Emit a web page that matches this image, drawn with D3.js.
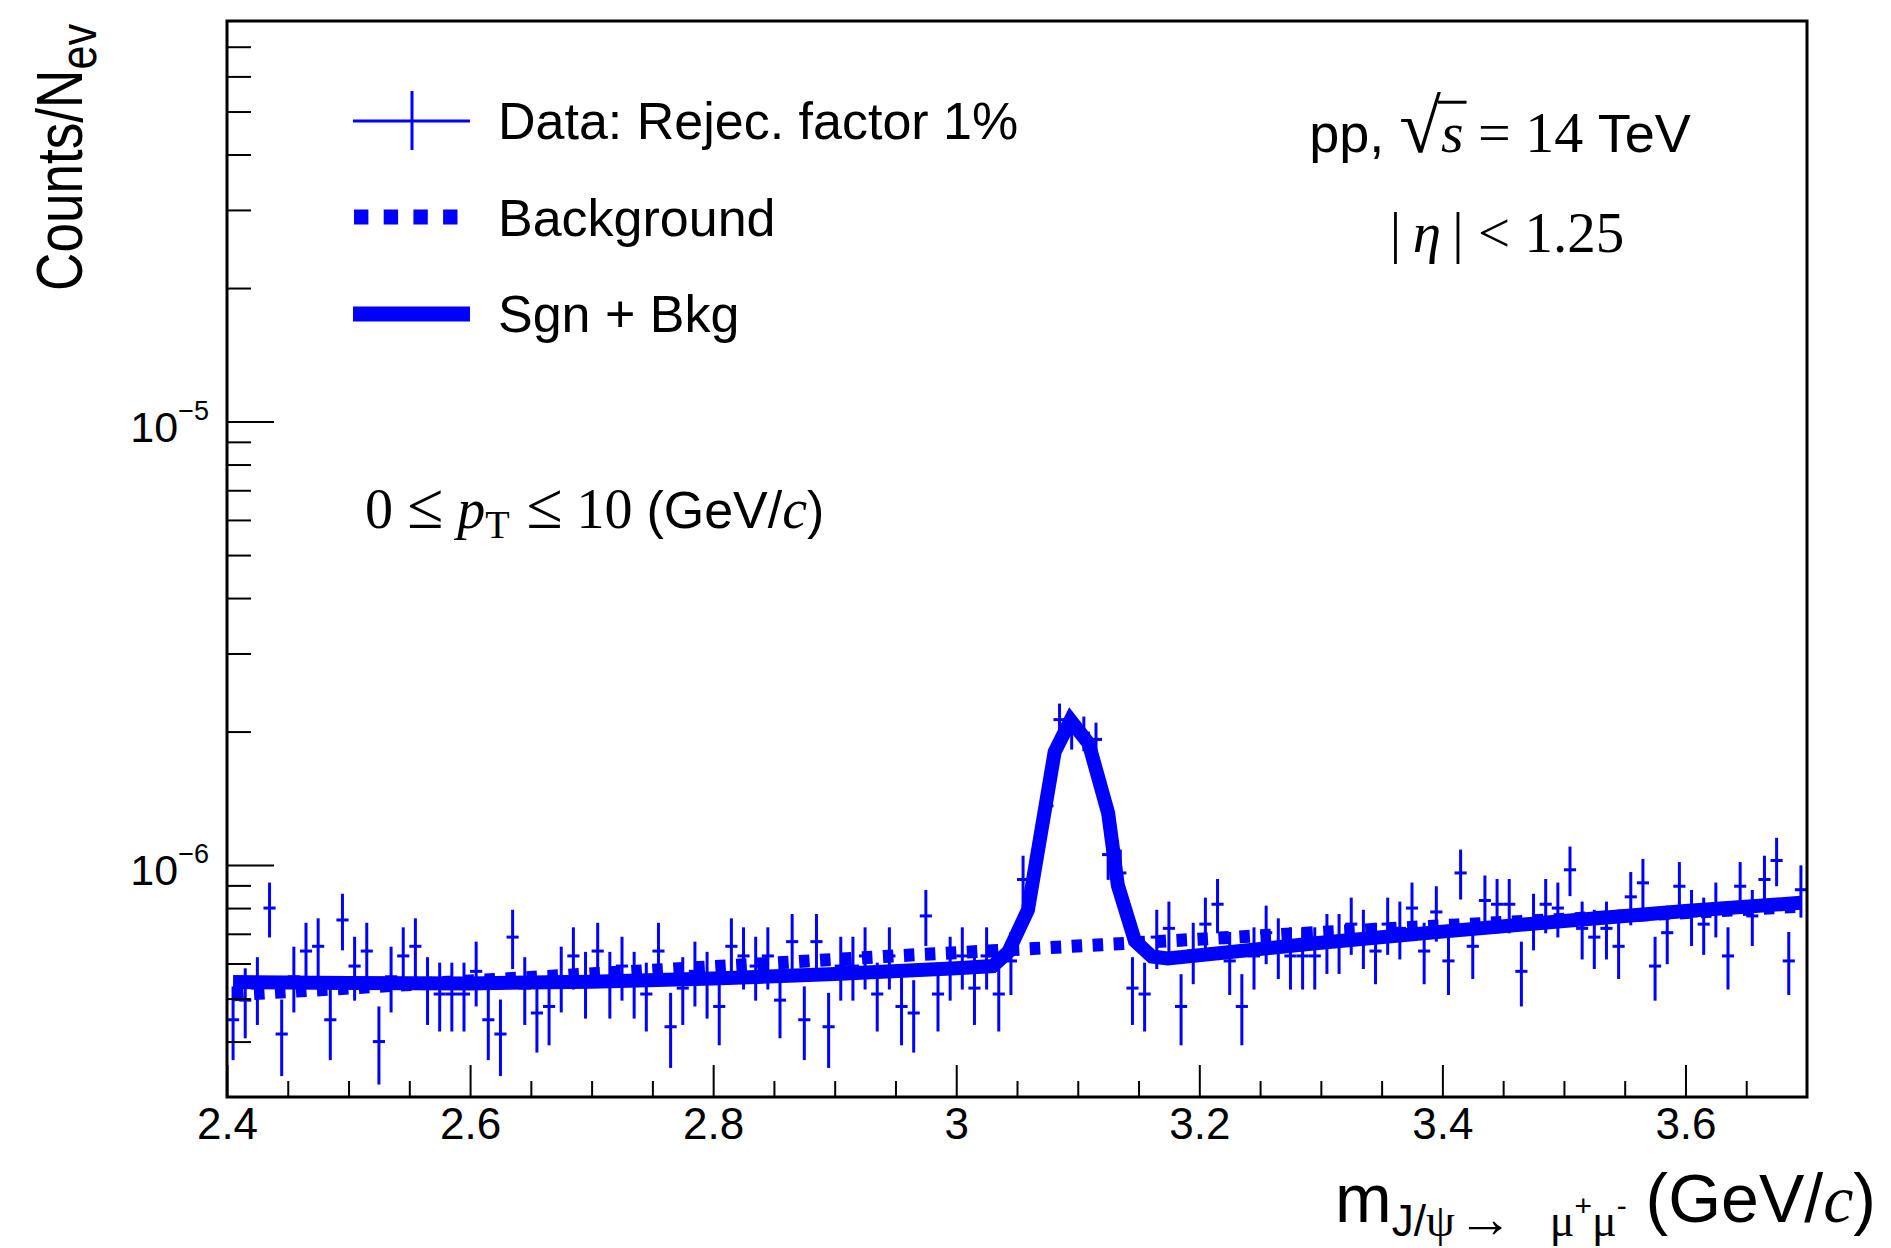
<!DOCTYPE html>
<html>
<head>
<meta charset="utf-8">
<script src="https://cdn.jsdelivr.net/npm/d3@7"></script>
<style>
body { margin: 0; background: #fff; }
text { font-family: "Liberation Sans", Arial, Helvetica, sans-serif; fill: #000; }
.serif { font-family: "Liberation Serif", "Times New Roman", serif; }
.it { font-style: italic; }
</style>
</head>
<body>
<div id="chart"></div>
<script>
// histogram: 130 bins of 0.01 from 2.4, entries per bin
var binLow = 2.4, binWidth = 0.01;
var counts = [28,31,33,50,26,35,40,41,28,47,37,40,25,35,39,41,33,32,32,32,
	36,28,26,43,33,29,30,35,39,34,40,34,37,34,32,40,27,33,36,34,
	30,41,39,37,39,31,42,28,42,27,37,37,39,32,39,30,29,48,32,37,
	39,33,39,32,38,58,63,85,133,125,124,120,66,60,33,32,43,45,30,40,
	46,51,38,30,39,44,41,39,39,39,42,42,46,43,40,46,45,50,40,49,
	38,60,41,52,51,51,36,47,51,50,61,45,43,45,41,53,57,37,44,56,
	48,46,50,39,56,48,58,64,38,55];
var countWeight = 1.6e-8;   // Counts/N_ev for one entry

// background fit (dotted)
var bkgX = [2.405, 2.6, 2.822, 2.94, 3.03, 3.13, 3.25, 3.4, 3.55, 3.695];
var bkgY = [5.10e-7, 5.48e-7, 5.95e-7, 6.22e-7, 6.41e-7, 6.64e-7, 6.93e-7, 7.30e-7, 7.68e-7, 8.08e-7];

// signal + background fit (solid)
var fitX = [2.405, 2.5, 2.6, 2.7, 2.8, 2.9, 3.0, 3.03, 3.043, 3.059, 3.081, 3.094, 3.109,
	3.125, 3.133, 3.147, 3.161, 3.174, 3.3, 3.4, 3.5, 3.6, 3.695];
var fitY = [5.45e-7, 5.42e-7, 5.41e-7, 5.46e-7, 5.55e-7, 5.68e-7, 5.85e-7, 5.92e-7, 6.38e-7,
	7.92e-7, 1.80e-6, 2.12e-6, 1.88e-6, 1.31e-6, 9.0e-7, 6.75e-7, 6.22e-7, 6.16e-7,
	6.68e-7, 7.08e-7, 7.48e-7, 7.88e-7, 8.22e-7];

var xMajor = [2.4, 2.6, 2.8, 3, 3.2, 3.4, 3.6];
var yDecades = [1e-6, 1e-5];

var W = 1891, H = 1248;
var frame = {left: 227, right: 1807, top: 21, bottom: 1097};
var blue = "#0000ff";

var svg = d3.select("#chart").append("svg")
	.attr("width", W)
	.attr("height", H);

var x = d3.scaleLinear().domain([2.4, 3.7]).range([frame.left, frame.right]);
var y = d3.scaleLog().domain([3e-7, 8e-5]).range([frame.bottom, frame.top]);

svg.append("clipPath").attr("id", "clip")
	.append("rect")
	.attr("x", frame.left).attr("y", frame.top)
	.attr("width", frame.right - frame.left)
	.attr("height", frame.bottom - frame.top);

var plot = svg.append("g").attr("clip-path", "url(#clip)");

// data points with sqrt(N) errors
var bins = counts.map(function(n, i){
	return {lo: binLow + i*binWidth, hi: binLow + (i+1)*binWidth,
		v: n*countWeight, e: Math.sqrt(n)*countWeight};
});

var pts = plot.append("g")
	.style("stroke", blue)
	.style("stroke-width", 3);

pts.selectAll(".ev").data(bins).enter().append("line")
	.attr("x1", function(d){ return x((d.lo + d.hi)/2); })
	.attr("x2", function(d){ return x((d.lo + d.hi)/2); })
	.attr("y1", function(d){ return y(d.v + d.e); })
	.attr("y2", function(d){ return y(d.v - d.e); });

pts.selectAll(".eh").data(bins).enter().append("line")
	.attr("x1", function(d){ return x(d.lo); })
	.attr("x2", function(d){ return x(d.hi); })
	.attr("y1", function(d){ return y(d.v); })
	.attr("y2", function(d){ return y(d.v); });

// fit curves
var bkgLine = d3.line()
	.x(function(d){ return x(d[0]); })
	.y(function(d){ return y(d[1]); })
	.curve(d3.curveMonotoneX);

var fitLine = d3.line()
	.x(function(d){ return x(d[0]); })
	.y(function(d){ return y(d[1]); });

plot.append("path")
	.attr("d", bkgLine(d3.zip(bkgX, bkgY)))
	.style("fill", "none")
	.style("stroke", blue)
	.style("stroke-width", 13)
	.style("stroke-dasharray", "10.5,10.5");

plot.append("path")
	.attr("d", fitLine(d3.zip(fitX, fitY)))
	.style("fill", "none")
	.style("stroke", blue)
	.style("stroke-width", 14)
	.style("stroke-linejoin", "miter");

// axes (ticks inside the frame)
var xMinor = d3.range(2.45, 3.7, 0.05).filter(function(t){
	return xMajor.every(function(m){ return Math.abs(m - t) > 1e-6; });
});

var xAxis = svg.append("g")
	.attr("transform", "translate(0," + frame.bottom + ")")
	.call(d3.axisBottom(x).tickValues(xMajor).tickSize(-32).tickPadding(11)
		.tickFormat(d3.format("")));
svg.append("g")
	.attr("transform", "translate(0," + frame.bottom + ")")
	.call(d3.axisBottom(x).tickValues(xMinor).tickSize(-16).tickFormat(""));

var yMinor = [];
[1e-7, 1e-6, 1e-5].forEach(function(dec){
	for (var k = 2; k <= 9; k++) {
		var v = k*dec;
		if (v > 3e-7 && v < 8e-5) yMinor.push(v);
	}
});

svg.append("g")
	.attr("transform", "translate(" + frame.left + ",0)")
	.call(d3.axisLeft(y).tickValues(yDecades).tickSize(-47).tickFormat(""));
svg.append("g")
	.attr("transform", "translate(" + frame.left + ",0)")
	.call(d3.axisLeft(y).tickValues(yMinor).tickSize(-24).tickFormat(""));

svg.selectAll(".domain").remove();
svg.selectAll(".tick line").style("stroke", "#000").style("stroke-width", 2);
xAxis.selectAll(".tick text")
	.style("font-size", "44px")
	.style("font-family", "'Liberation Sans', Arial, sans-serif")
	.style("fill", "#000");

yDecades.forEach(function(d){
	var t = svg.append("text")
		.attr("x", 209)
		.attr("y", y(d) + 20)
		.attr("text-anchor", "end")
		.style("font-size", "43px");
	t.append("tspan").text("10");
	t.append("tspan").attr("dy", -22).style("font-size", "27px")
		.text("\u2212" + Math.round(-Math.log10(d)));
});

svg.append("rect")
	.attr("x", frame.left).attr("y", frame.top)
	.attr("width", frame.right - frame.left)
	.attr("height", frame.bottom - frame.top)
	.style("fill", "none")
	.style("stroke", "#000")
	.style("stroke-width", 3);

// axis titles
var yt = svg.append("text")
	.attr("transform", "translate(82,24) rotate(-90) scale(0.83,1)")
	.attr("text-anchor", "end")
	.style("font-size", "64px");
yt.append("tspan").text("Counts/N");
yt.append("tspan").attr("dy", 14).style("font-size", "52px").text("ev");

var arrowW = 55;
var xt = svg.append("text")
	.attr("x", 1876).attr("y", 1222)
	.attr("text-anchor", "end")
	.style("font-size", "68px");
xt.append("tspan").text("m");
xt.append("tspan").attr("dy", 14).style("font-size", "44px").text("J/");
xt.append("tspan").attr("class", "serif").style("font-size", "46px").text("\u03c8");
xt.append("tspan").attr("dx", arrowW + 40).attr("class", "serif").style("font-size", "46px").text("\u03bc");
xt.append("tspan").attr("dy", -20).style("font-size", "30px").text("+");
xt.append("tspan").attr("dy", 20).attr("class", "serif").style("font-size", "46px").text("\u03bc");
xt.append("tspan").attr("dy", -20).style("font-size", "30px").text("-");
xt.append("tspan").attr("dy", 6).text(" (GeV/");
xt.append("tspan").attr("class", "serif it").text("c");
xt.append("tspan").text(")");

// arrow of the subscript, stretched to the reference width
var psiEnd = xt.node().getEndPositionOfChar(3).x;
svg.append("text")
	.attr("x", psiEnd + 3).attr("y", 1237)
	.attr("textLength", arrowW)
	.attr("lengthAdjust", "spacingAndGlyphs")
	.style("font-size", "54px")
	.text("\u2192");

// legend
var leg = svg.append("g");
leg.append("line").attr("x1", 353).attr("x2", 470).attr("y1", 121).attr("y2", 121)
	.style("stroke", blue).style("stroke-width", 3);
leg.append("line").attr("x1", 412).attr("x2", 412).attr("y1", 91).attr("y2", 150)
	.style("stroke", blue).style("stroke-width", 3);
leg.append("line").attr("x1", 354).attr("x2", 459).attr("y1", 217).attr("y2", 217)
	.style("stroke", blue).style("stroke-width", 15).style("stroke-dasharray", "14.4,15.3");
leg.append("line").attr("x1", 353).attr("x2", 470).attr("y1", 314).attr("y2", 314)
	.style("stroke", blue).style("stroke-width", 15);

var legLabels = ["Data: Rejec. factor 1%", "Background", "Sgn + Bkg"];
leg.selectAll(".lt").data(legLabels).enter().append("text")
	.attr("x", 498)
	.attr("y", function(d, i){ return 139 + i*96.5; })
	.style("font-size", "52px")
	.text(function(d){ return d; });

// annotations
var pp = svg.append("text")
	.attr("x", 1500).attr("y", 152)
	.attr("text-anchor", "middle")
	.style("font-size", "54px");
pp.append("tspan").text("pp, ");
pp.append("tspan").attr("class", "serif").style("font-size", "76px").text("\u221a");
pp.append("tspan").attr("class", "serif it").style("font-size", "58px").text("s");
pp.append("tspan").attr("class", "serif").style("font-size", "58px").text(" = 14 ");
pp.append("tspan").text("TeV");

// bar of the square root over s
var node = pp.node();
var sStart = node.getEndPositionOfChar(4).x - 3;
var sEnd = node.getEndPositionOfChar(5).x + 3;
svg.append("line")
	.attr("x1", sStart).attr("x2", sEnd)
	.attr("y1", 152 - 0.655*76).attr("y2", 152 - 0.655*76)
	.style("stroke", "#000").style("stroke-width", 3);

var eta = svg.append("text")
	.attr("x", 1507).attr("y", 252)
	.attr("text-anchor", "middle")
	.attr("class", "serif")
	.style("font-size", "57px");
eta.append("tspan").text("|\u2009");
eta.append("tspan").attr("class", "serif it").text("\u03b7");
eta.append("tspan").text("\u2009| < 1.25");

var pt = svg.append("text")
	.attr("x", 365).attr("y", 528)
	.style("font-size", "56px");
pt.append("tspan").attr("class", "serif").text("0 ");
pt.append("tspan").attr("class", "serif").style("font-size", "66px").text("\u2264");
pt.append("tspan").attr("class", "serif it").text(" p");
pt.append("tspan").attr("class", "serif").attr("dy", 10).style("font-size", "40px").text("T");
pt.append("tspan").attr("class", "serif").attr("dy", -10).style("font-size", "66px").text(" \u2264");
pt.append("tspan").attr("class", "serif").text(" 10 ");
pt.append("tspan").style("font-size", "52px").text("(GeV/");
pt.append("tspan").attr("class", "serif it").text("c");
pt.append("tspan").style("font-size", "52px").text(")");
</script>
</body>
</html>
